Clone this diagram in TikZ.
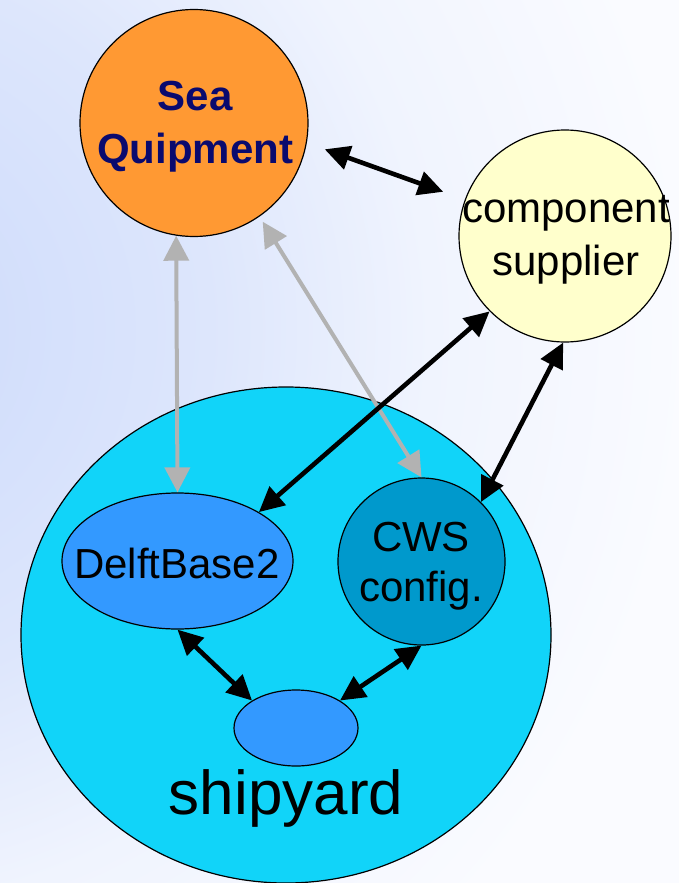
\documentclass[tikz,border=0pt]{standalone}
\usepackage{fontspec}
\setmainfont{Liberation Sans}
\usetikzlibrary{shapes.geometric,arrows.meta}
\definecolor{bgdark}{RGB}{204,218,251}
\definecolor{bgmid}{RGB}{221,230,252}
\definecolor{bgpale}{RGB}{240,244,254}
\definecolor{bgright}{RGB}{250,251,255}
\definecolor{seaorange}{RGB}{255,153,51}
\definecolor{seanavy}{RGB}{10,10,110}
\definecolor{supyellow}{RGB}{255,255,204}
\definecolor{yardcyan}{RGB}{17,212,249}
\definecolor{dbblue}{RGB}{51,153,255}
\definecolor{cwsblue}{RGB}{0,153,204}
\definecolor{linkgray}{RGB}{178,178,178}
\pgfdeclareradialshading{bgglow}{\pgfpoint{0bp}{0bp}}{color(0bp)=(bgdark); color(9bp)=(bgmid); color(14.5bp)=(bgpale); color(21bp)=(bgright); color(25bp)=(bgright); color(50bp)=(bgright)}
\begin{document}
\begin{tikzpicture}[x=1pt,y=-1pt,
blob/.style={ellipse,draw=black,line width=1.2pt,inner sep=0pt},
lbl/.style={align=center,font=\fontsize{42}{53}\selectfont},
blk/.style={{Triangle[length=25pt,width=24pt]}-{Triangle[length=25pt,width=24pt]},line width=4.6pt,black},
gry/.style={{Triangle[length=25pt,width=25pt]}-{Triangle[length=25pt,width=25pt]},line width=4pt,linkgray}]
\useasboundingbox (0,0) rectangle (679,883);
\begin{scope}
\clip (0,0) rectangle (679,883);
\fill[bgright] (0,0) rectangle (679,883);
\shade[shading=bgglow] (-150,330) circle (1000);
\end{scope}
\node[blob,fill=yardcyan,minimum width=530pt,minimum height=496pt] (yard) at (286,635) {};
\node[blob,fill=seaorange,minimum width=228pt,minimum height=227pt] (sea) at (194,123) {};
\node[blob,fill=supyellow,minimum width=212pt,minimum height=212pt] (sup) at (565,236) {};
\node[blob,fill=dbblue,minimum width=231pt,minimum height=136pt] (db) at (177.5,561) {};
\node[blob,fill=cwsblue,minimum width=167pt,minimum height=167pt] (cws) at (421.5,561.5) {};
\node[blob,fill=dbblue,minimum width=124pt,minimum height=76pt] (sm) at (296,728) {};
\node[lbl,text=seanavy,font=\fontsize{42}{53}\selectfont\bfseries] (seaname) at (195,127) {Sea\\Quipment};
\node[lbl] (supname) at (566,240) {component\\supplier};
\node[lbl] (dbname) at (177,563) {DelftBase2};
\node[lbl,font=\fontsize{42}{50}\selectfont] (cwsname) at (421,566) {CWS\\config.};
\node[anchor=base,font=\fontsize{62}{70}\selectfont] (yardname) at (286,814) {shipyard};
\draw[gry,shorten <=6pt] (sea.-55) -- (cws.north);
\draw[gry] (sea.-99) -- (db.north);
\draw[blk,shorten <=19pt,shorten >=23pt] (sea.-10) -- (sup.160);
\foreach \a/\b in {db.31/sup.225,cws.45/sup.-91,db.south/sm.148,cws.south/sm.32}
{
\draw[blk] (\a) -- (\b);
}
\end{tikzpicture}
\end{document}
